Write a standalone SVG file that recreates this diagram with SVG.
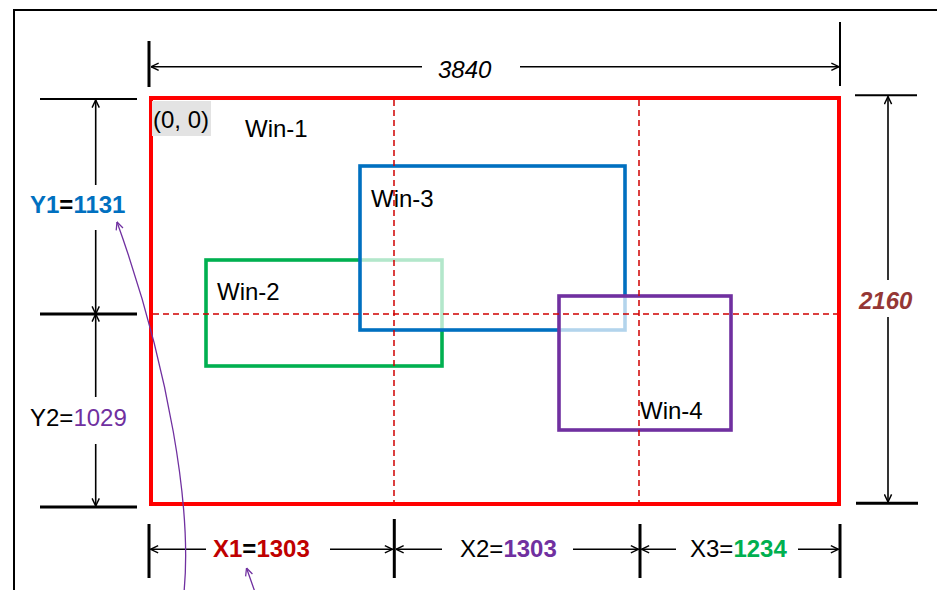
<svg xmlns="http://www.w3.org/2000/svg" width="937" height="590" viewBox="0 0 937 590">
<style>
text{font-family:"Liberation Sans",Arial,sans-serif;font-size:24px;fill:#000}
.b{font-weight:bold}
.dim{stroke:#000;stroke-width:1.6;fill:none}
.tick{stroke:#000;stroke-width:3}
.tk2{stroke:#000;stroke-width:2}
.dash{stroke:#d00000;stroke-width:1.5;stroke-dasharray:6 4;fill:none}
.win{fill:#fff;fill-opacity:0.7;stroke-width:3.6}
.pl{stroke:#7030a0;stroke-width:1.3;fill:none}
</style>
<defs>
<marker id="ah" viewBox="0 0 10 10" refX="9.5" refY="5" markerWidth="9" markerHeight="9" markerUnits="userSpaceOnUse" orient="auto-start-reverse">
<path d="M1,1 L9.5,5 L1,9" fill="none" stroke="#000" stroke-width="1.6"/>
</marker>
<marker id="ap" viewBox="0 0 10 10" refX="9.5" refY="5" markerWidth="9" markerHeight="9" markerUnits="userSpaceOnUse" orient="auto-start-reverse">
<path d="M1,1 L9.5,5 L1,9" fill="none" stroke="#7030a0" stroke-width="1.4"/>
</marker>
</defs>
<rect x="0" y="0" width="937" height="590" fill="#fff"/>
<g id="frame"><rect x="14" y="10" width="1000" height="700" fill="none" stroke="#000" stroke-width="2"/></g>
<g id="win-1">
<rect x="151" y="98" width="688" height="406" fill="none" stroke="#ff0000" stroke-width="4"/>
<rect x="152" y="101" width="59" height="35" fill="#e3e3e3"/>
<text x="153" y="128">(0, 0)</text>
<text x="245" y="137">Win-1</text>
</g>
<g id="win-2">
<rect class="win" x="206" y="260" width="236" height="106" stroke="#00b050"/>
<text x="217" y="300">Win-2</text>
</g>
<g id="win-3">
<rect class="win" x="360" y="166" width="265" height="164" stroke="#0070c0"/>
<text x="371" y="207">Win-3</text>
</g>
<g id="win-4">
<rect class="win" x="559" y="296" width="172" height="134" stroke="#7030a0"/>
<text x="640" y="419">Win-4</text>
</g>
<g id="grid">
<line class="dash" x1="394" y1="100" x2="394" y2="502"/>
<line class="dash" x1="639" y1="100" x2="639" y2="502"/>
<line class="dash" x1="153" y1="314" x2="837" y2="314"/>
</g>
<g id="connectors">
<line class="tick" x1="149" y1="41" x2="149" y2="87"/>
<line class="tk2" x1="840" y1="22" x2="840" y2="86"/>
<line class="dim" x1="422" y1="66.7" x2="151" y2="66.7" marker-end="url(#ah)"/>
<line class="dim" x1="520" y1="66.7" x2="839" y2="66.7" marker-end="url(#ah)"/>
<line class="tk2" x1="40" y1="99" x2="137" y2="99"/>
<line class="tick" x1="40" y1="314" x2="137" y2="314"/>
<line class="tick" x1="40" y1="507" x2="137" y2="507"/>
<line class="dim" x1="95.7" y1="185" x2="95.7" y2="100" marker-end="url(#ah)"/>
<line class="dim" x1="95.7" y1="230" x2="95.7" y2="314" marker-end="url(#ah)"/>
<line class="dim" x1="95.7" y1="397" x2="95.7" y2="314" marker-end="url(#ah)"/>
<line class="dim" x1="95.7" y1="444" x2="95.7" y2="506" marker-end="url(#ah)"/>
<line class="tk2" x1="855" y1="95.3" x2="917" y2="95.3"/>
<line class="tick" x1="856" y1="503.3" x2="918" y2="503.3"/>
<line class="dim" x1="888" y1="280" x2="888" y2="96.5" marker-end="url(#ah)"/>
<line class="dim" x1="888" y1="317" x2="888" y2="502" marker-end="url(#ah)"/>
<line class="tick" x1="149" y1="524" x2="149" y2="578"/>
<line class="tick" x1="394.3" y1="519" x2="394.3" y2="578"/>
<line class="tick" x1="640" y1="524" x2="640" y2="578"/>
<line class="tick" x1="840" y1="524" x2="840" y2="578"/>
<line class="dim" x1="206" y1="549.3" x2="150.5" y2="549.3" marker-end="url(#ah)"/>
<line class="dim" x1="330" y1="549.3" x2="392.5" y2="549.3" marker-end="url(#ah)"/>
<line class="dim" x1="442" y1="549.3" x2="396" y2="549.3" marker-end="url(#ah)"/>
<line class="dim" x1="573" y1="549.3" x2="638.5" y2="549.3" marker-end="url(#ah)"/>
<line class="dim" x1="676" y1="549.3" x2="641.5" y2="549.3" marker-end="url(#ah)"/>
<line class="dim" x1="798" y1="549.3" x2="838.5" y2="549.3" marker-end="url(#ah)"/>
<path class="pl" d="M117,222 C163,350 200,520 180,620 S240,640 262,612 L246.5,568" marker-start="url(#ap)" marker-end="url(#ap)"/>
</g>
<g id="labels">
<text x="438" y="78" font-style="italic">3840</text>
<text x="859" y="309" class="b" font-style="italic" fill="#953735" style="fill:#953735">2160</text>
<text x="30" y="213" class="b"><tspan style="fill:#0070c0">Y1</tspan>=<tspan style="fill:#0070c0">1131</tspan></text>
<text x="30" y="426">Y2=<tspan style="fill:#7030a0">1029</tspan></text>
<text x="213" y="557" class="b"><tspan style="fill:#c00000">X1</tspan>=<tspan style="fill:#c00000">1303</tspan></text>
<text x="460" y="557">X2=<tspan class="b" style="fill:#7030a0">1303</tspan></text>
<text x="690" y="557">X3=<tspan class="b" style="fill:#00b050">1234</tspan></text>
</g>
</svg>
